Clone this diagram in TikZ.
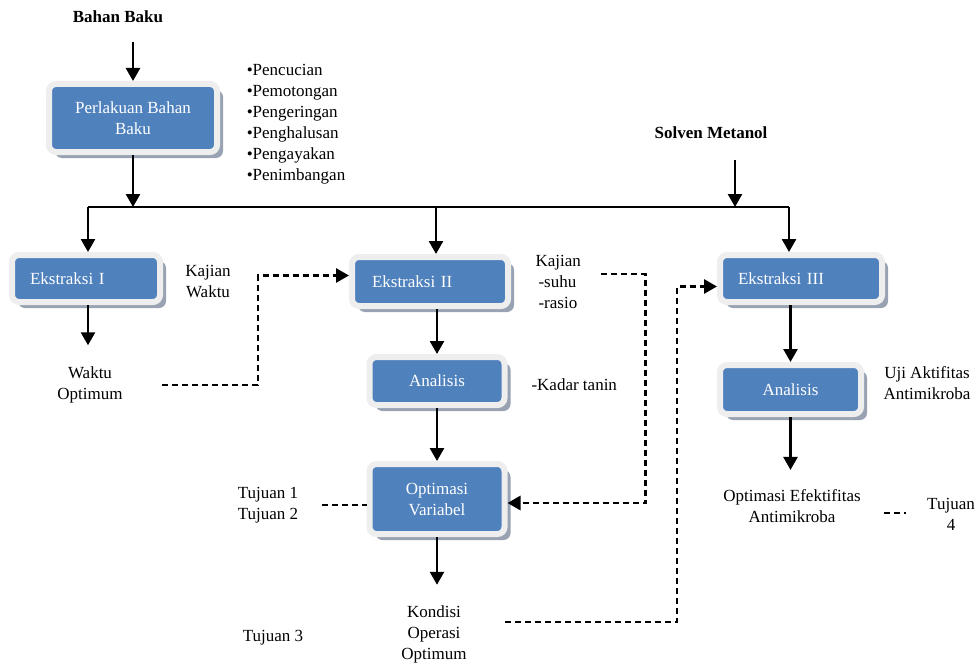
\documentclass[tikz,border=0pt]{standalone}
\usepackage{fontspec}
\setmainfont{Liberation Serif}
\usetikzlibrary{arrows.meta,shadows}
\definecolor{boxblue}{HTML}{4F81BD}
\definecolor{boxrim}{HTML}{EEEEEE}
\definecolor{boxshade}{HTML}{98A2B3}
\newcommand{\txtsize}{\fontsize{17}{21}\selectfont}

\begin{document}
\begin{tikzpicture}[x=1pt, y=-1pt,
  every node/.style={font=\txtsize, align=center},
  procbox/.style={rectangle, rounded corners=7pt, fill=boxblue, draw=boxrim,
    line width=6pt, text=white, align=center,
    drop shadow={shadow xshift=6pt, shadow yshift=-6pt, fill=boxshade, opacity=1}},
  flow/.style={-{Triangle[width=14pt,length=13pt]}, line width=2.6pt},
  dashflow/.style={line width=2.8pt, dash pattern=on 6pt off 4pt},
  dashtip/.style={dashflow, -{Triangle[width=14pt,length=13pt]}}]
  \useasboundingbox (0,0) rectangle (979,666);
  % Raw material and pre-treatment
  \node[font=\txtsize\bfseries] (bahan) at (118,17) {Bahan Baku};
  \node[procbox, minimum width=168, minimum height=68] (pbb) at (133,118) {Perlakuan Bahan\\Baku};
  \node[align=left] (list) at (296,124) {•Pencucian\\•Pemotongan\\•Pengeringan\\•Penghalusan\\•Pengayakan\\•Penimbangan};
  \node[font=\txtsize\bfseries] (solven) at (711,133) {Solven Metanol};
  % Distribution line
  \coordinate (bus1) at (88,207);
  \coordinate (bus2) at (436,207);
  \coordinate (bus3) at (789,207);
  \coordinate (busS) at (735,207);
  % Extraction I
  \node[procbox, align=left, inner xsep=18, text width=112, minimum height=47] (eks1) at (86,278.5) {Ekstraksi I};
  \node (kaji1) at (208,281) {Kajian\\Waktu};
  \node (waktu) at (90,385) {Waktu\\Optimum};
  % Extraction II
  \node[procbox, align=left, inner xsep=20, text width=116, minimum height=49] (eks2) at (430,281.5) {Ekstraksi II};
  \node[anchor=west, align=left] (kaji2) at (532,282) {Kajian\\\hspace*{3pt}-suhu\\\hspace*{3pt}-rasio};
  \node[procbox, minimum width=135, minimum height=48] (ana2) at (437,381) {Analisis};
  \node[anchor=west] (kadar) at (528,385) {-Kadar tanin};
  \node[procbox, minimum width=135, minimum height=70] (opt) at (437,499) {Optimasi\\Variabel};
  \node (tuj12) at (268,505) {Tujuan 1\\Tujuan 2};
  \node (kondisi) at (434,634) {Kondisi\\Operasi\\Optimum};
  \node (tuj3) at (273,638) {Tujuan 3};
  % Extraction III
  \node[procbox, align=left, inner xsep=18, text width=126, minimum height=47] (eks3) at (801,278.5) {Ekstraksi III};
  \node[procbox, minimum width=141, minimum height=49] (ana3) at (790.5,389.5) {Analisis};
  \node (uji) at (927,383) {Uji Aktifitas\\Antimikroba};
  \node (optef) at (792,506) {Optimasi Efektifitas\\Antimikroba};
  \node (tuj4) at (951,514) {Tujuan\\4};
  % Solid connectors
  \draw[flow, shorten <=15pt] (bahan.south -| pbb.north) -- (pbb.north);
  \draw[flow] (pbb.south) -- (pbb.south |- bus1);
  \draw[line width=2.6pt] (bus1) -- (bus3);
  \draw[flow, shorten <=17pt] (solven.south -| busS) -- (busS);
  \draw[flow] (bus1) -- (bus1 |- eks1.north);
  \draw[flow] (bus2) -- (bus2 |- eks2.north);
  \draw[flow] (bus3) -- (bus3 |- eks3.north);
  \draw[flow, shorten >=18pt] (eks1.south -| bus1) -- (bus1 |- waktu.north);
  \draw[flow] (ana2 |- eks2.south) -- (ana2.north);
  \draw[flow] (ana2.south) -- (opt.north);
  \draw[flow, shorten >=17pt] (opt.south) -- (opt.south |- kondisi.north);
  \draw[flow] (ana3 |- eks3.south) -- (ana3.north);
  \draw[flow, shorten >=16pt] (ana3.south) -- (ana3.south |- optef.north);
  % Dashed links
  \draw[dashtip, shorten <=36pt] (waktu.east) -| ([xshift=-91pt,yshift=6pt]eks2.west) -- ([yshift=6pt]eks2.west);
  \draw[dashtip, shorten <=17pt] ([yshift=8pt]kaji2.east) -| ([xshift=138pt,yshift=-4pt]opt.east) -- ([yshift=-4pt]opt.east);
  \draw[dashflow, shorten <=20pt] (tuj12.east) -- (tuj12.east -| opt.west);
  \draw[dashtip, shorten <=35pt] ([yshift=12pt]kondisi.east) -| ([xshift=-40pt,yshift=-8pt]eks3.west) -- ([yshift=-8pt]eks3.west);
  \draw[dashflow, shorten <=20pt, shorten >=18pt] ([yshift=-7pt]optef.east) -- ([yshift=-7pt]optef.east -| tuj4.west);
\end{tikzpicture}
\end{document}
